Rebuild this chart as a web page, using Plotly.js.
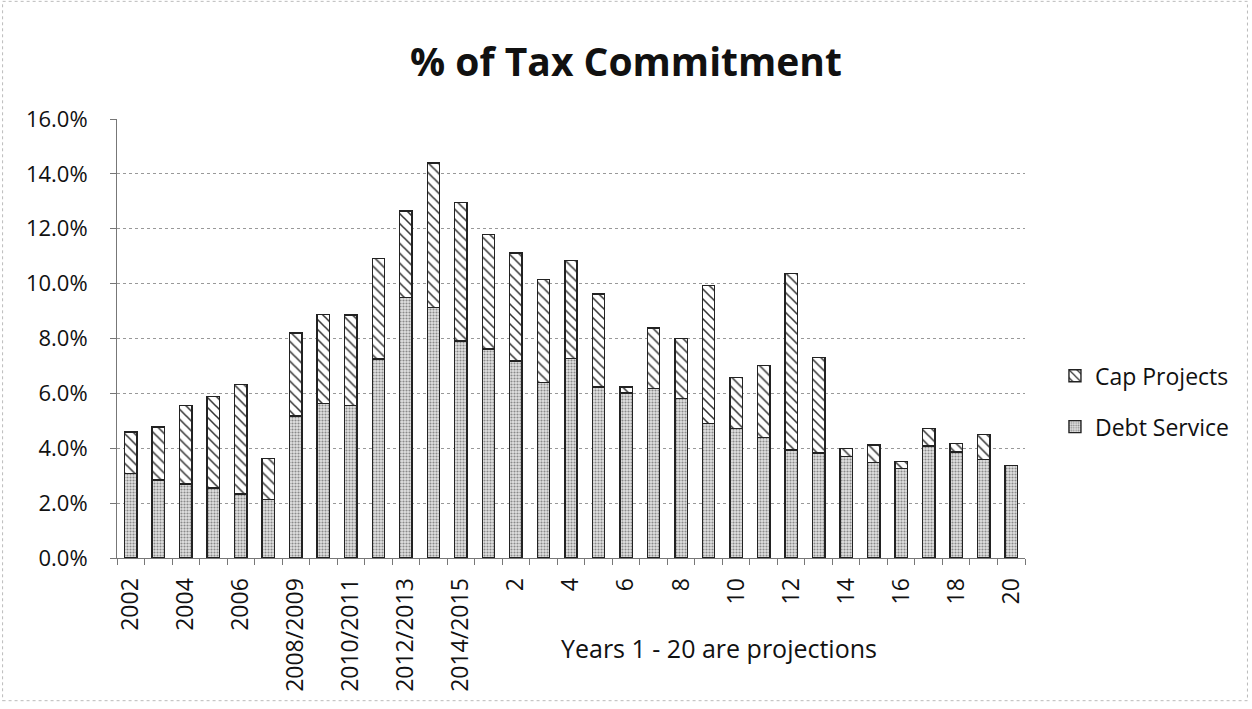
<!DOCTYPE html>
<html>
<head>
<meta charset="utf-8">
<script src="https://cdn.plot.ly/plotly-3.0.1.min.js"></script>
<style>html,body{margin:0;padding:0;background:#fff;}#chart{width:1252px;height:709px;}</style>
</head>
<body>
<div id="chart"></div>
<script>
const categories = ["2002","2003","2004","2005","2006","2007","2008/2009","2009/2010","2010/2011","2011/2012","2012/2013","2013/2014","2014/2015",
  "1","2","3","4","5","6","7","8","9","10","11","12","13","14","15","16","17","18","19","20"];
const xTickText = ["2002","","2004","","2006","","2008/2009","","2010/2011","","2012/2013","","2014/2015",
  "","2","","4","","6","","8","","10","","12","","14","","16","","18","","20"];
const debtService = [3.07,2.85,2.70,2.55,2.34,2.13,5.18,5.63,5.56,7.26,9.49,9.12,7.91,
  7.62,7.18,6.39,7.27,6.23,6.01,6.18,5.82,4.90,4.73,4.40,3.93,3.83,3.71,3.47,3.26,4.08,3.87,3.59,3.37];
const totalCommitment = [4.59,4.78,5.55,5.89,6.33,3.63,8.20,8.88,8.86,10.92,12.65,14.39,12.96,
  11.78,11.11,10.16,10.84,9.62,6.23,8.38,7.99,9.94,6.57,7.01,10.38,7.30,3.99,4.12,3.52,4.72,4.17,4.50,3.37];
const capProjects = totalCommitment.map((t,i)=>+(t-debtService[i]).toFixed(2));

const font = "'Open Sans', sans-serif";
const traces = [
  {type:"bar", name:"Debt Service", x:categories, y:debtService.map(v=>v/100), legendgroup:"d", legendrank:2,
   width:0.45,
   marker:{color:"#dcdcdc", line:{color:"#222", width:1.4},
     pattern:{shape:".", fgcolor:"#8a8a8a", bgcolor:"#e2e2e2", size:3, solidity:0.4}}},
  {type:"bar", name:"Cap Projects", x:categories, y:capProjects.map(v=>v/100), legendgroup:"c", legendrank:1,
   width:0.45,
   marker:{color:"#ffffff", line:{color:"#222", width:1.4},
     pattern:{shape:"\\", fgcolor:"#333", bgcolor:"#ffffff", size:7, solidity:0.22}}}
];
const layout = {
  width:1252, height:709,
  paper_bgcolor:"#fff", plot_bgcolor:"#fff",
  barmode:"stack", bargap:0.55,
  margin:{l:117, r:227, t:119, b:151},
  font:{family:font, color:"#111", size:22},
  title:{text:"<b>% of Tax Commitment</b>", x:0.50, xanchor:"center", y:0.912, yanchor:"middle",
    font:{family:font, size:39, color:"#111"}},
  xaxis:{type:"category", tickmode:"array", tickvals:categories, ticktext:xTickText,
    tickangle:-90, tickson:"boundaries", ticks:"outside", ticklen:6, tickcolor:"#777",
    ticklabelstandoff:10,
    showline:true, linecolor:"#777", linewidth:1, showgrid:false,
    tickfont:{family:font, size:23, color:"#111"}},
  yaxis:{range:[0,0.16], dtick:0.02, tickformat:".1%", ticks:"outside", ticklen:6, tickcolor:"#777",
    ticklabelstandoff:18,
    showline:true, linecolor:"#777", linewidth:1,
    showgrid:true, gridcolor:"#999", griddash:"dot", gridwidth:1, zeroline:false,
    tickfont:{family:font, size:22, color:"#111"}},
  legend:{x:1.033, xanchor:"left", y:0.357, yanchor:"middle", traceorder:"grouped", tracegroupgap:18,
    font:{family:font, size:23, color:"#111"}, bgcolor:"rgba(0,0,0,0)"},
  annotations:[{text:"Years 1 - 20 are projections", xref:"paper", yref:"paper", x:0.663, y:-0.205,
    xanchor:"center", yanchor:"middle", showarrow:false, font:{family:font, size:25, color:"#111"}}],
  shapes:[{type:"rect", xref:"paper", yref:"paper", x0:-0.126, x1:1.245, y0:-0.325, y1:1.268,
    line:{color:"#bbb", width:1, dash:"dot"}}]
};
Plotly.newPlot("chart", traces, layout, {displayModeBar:false});
</script>
</body>
</html>
